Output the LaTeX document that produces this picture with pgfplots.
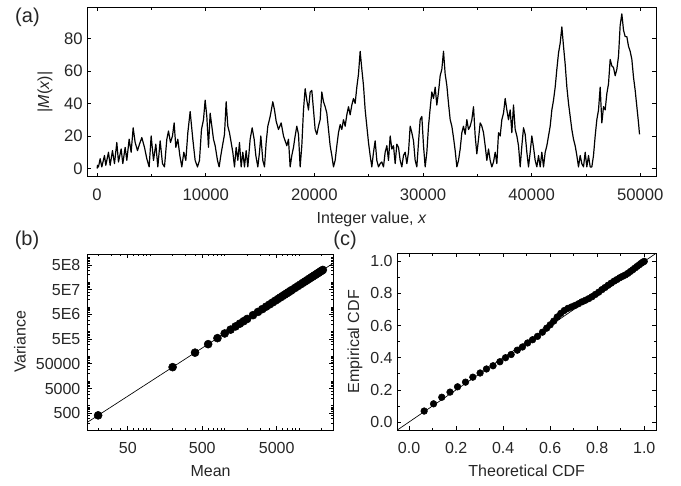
\documentclass[border=0pt]{standalone}
\usepackage{fontspec}
\setmainfont{Liberation Sans}
\usepackage{pgfplots}
\usepackage{pgfplotstable}
\pgfplotsset{compat=1.18}

\pgfplotstableread{
x v
0 0
40 2
80 1
126 1
279 6
433 1
678 8
801 2
1047 10
1200 2
1415 11
1599 3
1814 16
1967 4
2213 12
2366 3
2581 13
2735 5
2949 18
3133 10
3318 25
3502 16
3717 11
3901 15
4116 19
4361 13
4576 6
4791 1
4975 20
5190 5
5404 15
5589 1
5803 17
6018 3
6202 1
6417 18
6571 23
6755 16
6939 20
7092 28
7246 13
7430 18
7614 8
7798 1
7982 10
8167 5
8351 22
8565 35
8810 18
9025 5
9240 1
9424 5
9608 24
9793 30
9946 42
10099 32
10253 13
10406 34
10560 26
10713 18
10867 14
11081 5
11235 1
11388 8
11542 14
11726 21
11879 41
12033 26
12186 22
12340 16
12493 10
12647 1
12800 13
12954 5
13107 16
13260 1
13414 10
13567 1
13721 11
13874 1
14089 18
14273 25
14457 18
14611 8
14795 1
14948 10
15071 20
15255 5
15409 1
15562 16
15715 26
15931 32
16176 41
16330 36
16483 29
16698 24
16943 28
17158 20
17463 14
17617 18
17770 1
17924 8
18077 13
18231 20
18384 26
18538 21
18691 1
18844 14
18998 36
19151 49
19305 42
19458 36
19612 47
19765 48
19919 36
20072 24
20226 21
20379 26
20532 30
20686 47
20839 41
20993 38
21146 34
21300 24
21453 14
21607 8
21760 1
21913 5
22067 14
22220 22
22374 27
22527 24
22681 30
22834 26
22988 33
23141 38
23294 33
23448 39
23601 43
23755 40
23908 50
24062 58
24215 72
24369 61
24522 51
24676 36
24829 26
24982 16
25136 8
25289 1
25443 10
25596 17
25750 5
25903 1
26057 3
26210 4
26364 1
26517 10
26671 14
26824 5
26978 20
27131 12
27285 14
27438 3
27591 15
27745 13
27898 5
28052 1
28205 8
28359 10
28512 3
28666 10
28819 26
28972 22
29126 17
29279 5
29433 1
29586 16
29740 30
29893 32
30047 14
30200 1
30354 10
30507 26
30660 37
30814 47
30967 43
31121 50
31274 39
31428 47
31581 57
31735 61
31888 72
32041 58
32195 51
32348 40
32502 30
32655 26
32809 19
32962 11
33116 1
33269 5
33423 12
33576 22
33729 26
33883 21
34036 30
34190 24
34343 26
34497 30
34650 38
34803 20
34956 9
35110 18
35263 28
35417 26
35570 22
35724 14
35877 5
36031 12
36184 5
36337 1
36491 4
36644 10
36798 3
36951 22
37105 20
37258 30
37412 34
37565 43
37718 36
37872 30
38025 36
38179 22
38332 39
38486 24
38639 20
38793 14
38946 1
39100 14
39253 25
39406 21
39560 10
39713 1
39867 10
40020 20
40174 13
40327 5
40481 1
40634 8
40787 1
40941 10
41094 1
41248 10
41401 14
41555 20
41708 26
41862 36
42015 42
42169 50
42322 61
42476 71
42629 77
42782 87
42936 75
43089 64
43243 50
43396 40
43701 24
43855 18
44008 14
44162 8
44315 1
44469 8
44622 3
44776 1
44929 10
45082 1
45236 8
45389 1
45543 1
45696 8
45850 20
46003 30
46157 36
46310 50
46464 28
46617 38
46770 36
46924 46
47077 52
47231 67
47384 63
47538 62
47691 57
47845 61
47998 69
48151 88
48305 95
48458 85
48612 81
48765 81
48919 75
49072 72
49226 67
49379 56
49533 48
49686 38
49840 28
49931 21
}\mertens

\pgfplotstableread{
m var
20 411.6
200 36680
400 141700
600 312600
800 547700
1000 846200
1200 1.2076e6
1400 1.6312e6
1600 2.1161e6
1800 2.6628e6
2000 3.2691e6
2400 4.6666e6
2800 6.3029e6
3200 8.1752e6
3600 1.0287e7
4000 1.2634e7
4400 1.5212e7
4800 1.8029e7
5200 2.1077e7
5600 2.4350e7
6000 2.7855e7
6400 3.1594e7
6800 3.5556e7
7200 3.9746e7
7600 4.4173e7
8000 4.8809e7
8800 5.8773e7
9600 6.9648e7
10400 8.1434e7
11200 9.4078e7
12000 1.0761e8
12800 1.2206e8
13600 1.3733e8
14400 1.5357e8
15200 1.7070e8
16000 1.8862e8
16800 2.0749e8
17600 2.2719e8
18400 2.4764e8
19200 2.6915e8
20000 2.9142e8
20800 3.1460e8
}\meanvar

\pgfplotstableread{
t e
0.064 0.068
0.104 0.113
0.139 0.154
0.174 0.186
0.206 0.219
0.240 0.248
0.271 0.279
0.302 0.305
0.329 0.330
0.357 0.350
0.386 0.375
0.410 0.400
0.434 0.420
0.460 0.447
0.482 0.467
0.504 0.492
0.525 0.512
0.546 0.533
0.567 0.559
0.585 0.584
0.600 0.605
0.615 0.628
0.630 0.654
0.645 0.676
0.660 0.694
0.675 0.707
0.690 0.716
0.705 0.725
0.720 0.736
0.735 0.748
0.750 0.758
0.764 0.768
0.778 0.780
0.792 0.794
0.806 0.808
0.820 0.824
0.833 0.837
0.846 0.851
0.859 0.864
0.872 0.877
0.884 0.887
0.896 0.898
0.908 0.907
0.919 0.915
0.930 0.925
0.941 0.937
0.951 0.948
0.961 0.959
0.970 0.969
0.979 0.979
0.987 0.988
0.994 0.995
1.000 1.000
}\cdf

\newcommand{\lblfont}{\fontsize{12}{14}\selectfont}

\pgfplotsset{
  every axis/.append style={
    scale only axis,
    anchor=north west,
    axis line style={black, line width=0.6pt},
    tick style={black, line width=0.5pt},
    major tick length=3pt,
    minor tick length=1.8pt,
    /pgf/number format/assume math mode=true,
    tick label style={font=\fontsize{12}{14}\selectfont, text=black!85},
    xticklabel style={yshift=-5.5pt},
  },
}

\begin{document}
\begin{tikzpicture}
\path (0pt,0pt) rectangle (510.75pt,-363.75pt);

% (a)
\begin{axis}[
  at={(65.5pt,-5.5pt)},
  width=426.5pt, height=127pt,
  xmin=-900, xmax=51450, ymin=-5, ymax=99,
  xtick={0,10000,20000,30000,40000,50000},
  minor xtick={5000,15000,25000,35000,45000},
  ytick={0,20,40,60,80},
  scaled x ticks=false,
  xticklabel style={/pgf/number format/.cd, set thousands separator={}},
  tick label style={font=\fontsize{12.5}{14}\selectfont},
  xlabel={Integer value, \textit{x}},
  ylabel={|\textit{M}(\textit{x})|},
  every axis x label/.style={at={(axis description cs:0.5,-0.254)}, anchor=center, font=\lblfont, text=black!85},
  every axis y label/.style={at={(axis description cs:-0.0744,0.5)}, rotate=90, anchor=center, font=\lblfont, text=black!85},
]
\addplot[black, line width=0.9pt, line join=round] table[x=x, y=v] {\mertens};
\end{axis}

% (b)
\begin{axis}[
  at={(65.8pt,-190.5pt)},
  width=184.2pt, height=132pt,
  xmode=log, ymode=log,
  xmin=14.5, xmax=28770, ymin=105, ymax=1.39e9,
  xtick={50,500,5000}, xticklabels={50,500,5000},
  minor xtick={20,30,40,60,70,80,90,100,200,300,400,600,700,800,900,1000,2000,3000,4000,6000,7000,8000,9000,10000,20000},
  ytick={500,5000,50000,500000,5000000,50000000,500000000},
  yticklabels={500,5000,50000,5E5,5E6,5E7,5E8},
  yticklabel style={xshift=-2pt},
  minor ytick={200,300,400,600,700,800,900,1000,2000,3000,4000,6000,7000,8000,9000,1e4,2e4,3e4,4e4,6e4,7e4,8e4,9e4,1e5,2e5,3e5,4e5,6e5,7e5,8e5,9e5,1e6,2e6,3e6,4e6,6e6,7e6,8e6,9e6,1e7,2e7,3e7,4e7,6e7,7e7,8e7,9e7,1e8,2e8,3e8,4e8,6e8,7e8,8e8,9e8,1e9},
  xlabel={Mean},
  ylabel={Variance},
  every axis x label/.style={at={(axis description cs:0.5,-0.232)}, anchor=center, font=\lblfont, text=black!85},
  every axis y label/.style={at={(axis description cs:-0.276,0.5)}, rotate=90, anchor=center, font=\lblfont, text=black!85},
]
\addplot[black, line width=0.5pt] coordinates {(14,205.3) (30000,6.426e8)};
\addplot[only marks, mark=*, mark size=3pt, black] table[x=m, y=var] {\meanvar};
\end{axis}

% (c)
\begin{axis}[
  at={(298pt,-190pt)},
  width=194pt, height=132.5pt,
  xmin=-0.05, xmax=1.05, ymin=-0.05, ymax=1.05,
  xtick={0,0.2,0.4,0.6,0.8,1.0},
  ytick={0,0.2,0.4,0.6,0.8,1.0},
  minor xtick={0.1,0.3,0.5,0.7,0.9},
  minor ytick={0.1,0.3,0.5,0.7,0.9},
  xticklabel style={/pgf/number format/.cd, fixed, fixed zerofill, precision=1},
  yticklabel style={/pgf/number format/.cd, fixed, fixed zerofill, precision=1},
  xlabel={Theoretical CDF},
  ylabel={Empirical CDF},
  every axis x label/.style={at={(axis description cs:0.5,-0.232)}, anchor=center, font=\lblfont, text=black!85},
  every axis y label/.style={at={(axis description cs:-0.1635,0.5)}, rotate=90, anchor=center, font=\lblfont, text=black!85},
]
\addplot[black, line width=0.5pt] coordinates {(-0.05,-0.05) (1.05,1.05)};
\addplot[only marks, mark=*, mark size=2.5pt, black] table[x=t, y=e] {\cdf};
\end{axis}

\node[font=\fontsize{15}{17}\selectfont, text=black!85] at (20.6pt,-12.75pt) {(a)};
\node[font=\fontsize{15}{17}\selectfont, text=black!85] at (20.25pt,-180pt) {(b)};
\node[font=\fontsize{15}{17}\selectfont, text=black!85] at (258.75pt,-180pt) {(c)};
\end{tikzpicture}
\end{document}
